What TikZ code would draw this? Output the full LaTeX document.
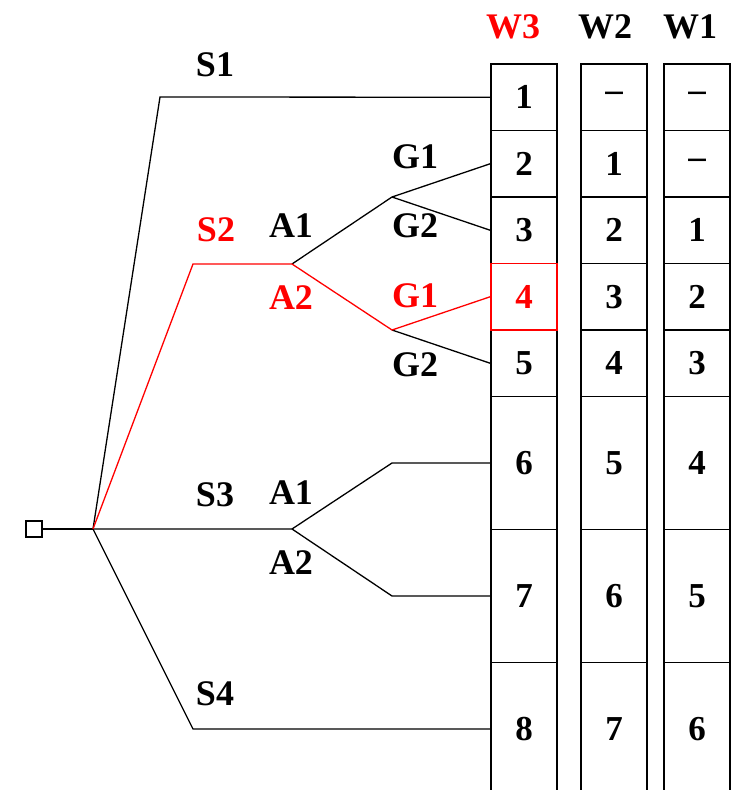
\documentclass[tikz,border=0pt]{standalone}
\usepackage{fontspec}
\setmainfont{Liberation Serif}
\usepackage{xcolor}
\usetikzlibrary{positioning}
\definecolor{hot}{HTML}{FF0000}

\begin{document}
\begin{tikzpicture}[x=1pt, y=-1pt, line width=1.3pt,
  cell/.style={draw=black, line width=1.6pt, minimum width=66pt, minimum height=66.5pt, inner sep=0pt, font=\fontsize{35}{35}\bfseries\selectfont},
  tall/.style={cell, minimum height=133pt},
  lab/.style={font=\fontsize{36}{36}\bfseries\selectfont, inner sep=0pt},
  conn/.style={draw=black, line width=1.3pt}]
\clip (0,0) rectangle (740,790);
% column heads
\node[lab, text=hot] (h3) at (513,27) {W3};
\node[lab] (h2) at (605,27) {W2};
\node[lab] (h1) at (690,27) {W1};
% W3 column
\node[cell] (c31) at (524,97.25) {1};
\node[cell] (c32) at (524,163.75) {2};
\node[cell] (c33) at (524,230.25) {3};
\node[cell] (c35) at (524,363.25) {5};
\node[tall] (c36) at (524,463) {6};
\node[tall] (c37) at (524,596) {7};
\node[tall] (c38) at (524,729) {8};
\node[cell, draw=hot, text=hot] (c34) at (524,296.75) {4};
% W2 column
\node[cell] (c21) at (614,97.25) {--};
\node[cell] (c22) at (614,163.75) {1};
\node[cell] (c23) at (614,230.25) {2};
\node[cell] (c24) at (614,296.75) {3};
\node[cell] (c25) at (614,363.25) {4};
\node[tall] (c26) at (614,463) {5};
\node[tall] (c27) at (614,596) {6};
\node[tall] (c28) at (614,729) {7};
% W1 column
\node[cell] (c11) at (697,97.25) {--};
\node[cell] (c12) at (697,163.75) {--};
\node[cell] (c13) at (697,230.25) {1};
\node[cell] (c14) at (697,296.75) {2};
\node[cell] (c15) at (697,363.25) {3};
\node[tall] (c16) at (697,463) {4};
\node[tall] (c17) at (697,596) {5};
\node[tall] (c18) at (697,729) {6};
% tree
\node[draw=black, line width=1.3pt, minimum size=16pt, inner sep=0pt] (start) at (34,529) {};
\coordinate (root) at (93,529);
\coordinate (s1) at (160,97);
\coordinate (s2) at (193,264);
\coordinate (a2) at (292,264);
\coordinate (g2a) at (392,197);
\coordinate (g2b) at (392,330);
\coordinate (a3) at (292,529);
\coordinate (g3a) at (392,463);
\coordinate (g3b) at (392,596);
\coordinate (s4) at (193,729);
\draw[conn] (start.east) -- (root);
\draw[conn] (root) -- (s1) -- (c31.west);
\draw[conn] (a2) -- (g2a) -- (c32.west);
\draw[conn] (g2a) -- (c33.west);
\draw[conn] (g2b) -- (c35.west);
\draw[conn] (root) -- (a3) -- (g3a) -- (c36.west);
\draw[conn] (a3) -- (g3b) -- (c37.west);
\draw[conn] (root) -- (s4) -- (c38.west);
\draw[conn, draw=hot] (root) -- (s2) -- (a2) -- (g2b) -- (c34.west);
% branch labels
\node[lab] (ls1) at (215,65) {S1};
\node[lab, text=hot] (ls2) at (216,230) {S2};
\node[lab] (la21) at (291,226) {A1};
\node[lab, text=hot] (la22) at (291,298) {A2};
\node[lab] (lg21) at (415,157) {G1};
\node[lab] (lg22) at (415,226) {G2};
\node[lab, text=hot] (lg23) at (415,296) {G1};
\node[lab] (lg24) at (415,365) {G2};
\node[lab] (ls3) at (215,495) {S3};
\node[lab] (la31) at (291,493) {A1};
\node[lab] (la32) at (291,563) {A2};
\node[lab] (ls4) at (215,694) {S4};
\end{tikzpicture}
\end{document}
